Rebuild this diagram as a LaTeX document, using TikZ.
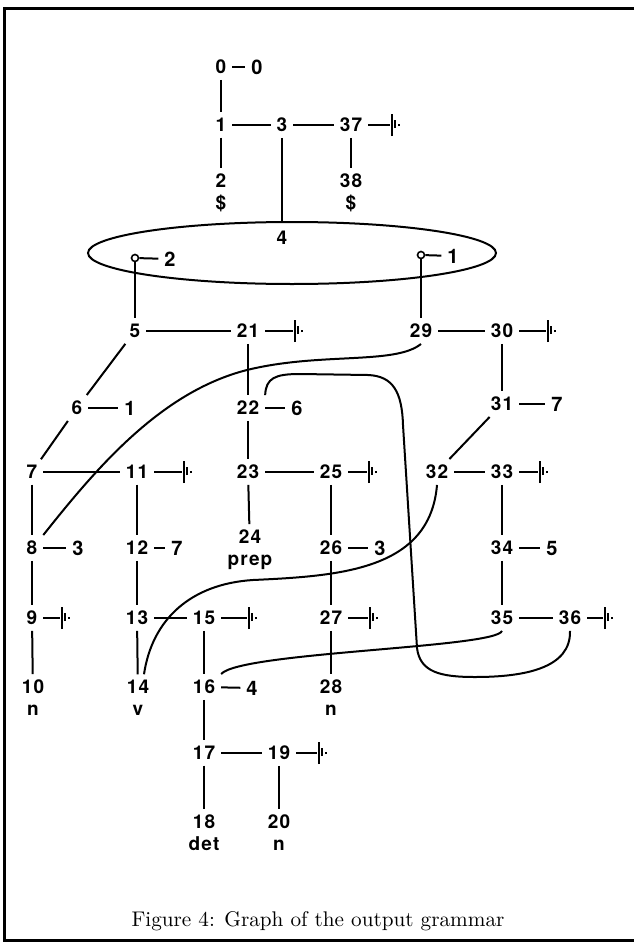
\documentclass[tikz,border=0pt]{standalone}
\usepackage{fontspec}
\setsansfont{TeX Gyre Heros}[LetterSpace=6]
\usetikzlibrary{shapes.geometric}

% end-of-rule mark: bar, stub and dot
\newcommand{\finsym}{\rule[-5.5pt]{1.1pt}{11pt}\kern0.5pt\rule[-1.5pt]{0.7pt}{4pt}\kern1.4pt\rule[-0.5pt]{1pt}{1pt}}

\begin{document}
\begin{tikzpicture}[x=0.5pt, y=-0.5pt, line width=1pt,
  num/.style={font=\sffamily\bfseries\fontsize{9.5}{11}\selectfont, align=center,
              inner sep=2.5pt},
  lab/.style={font=\sffamily\bfseries\fontsize{10}{11}\selectfont, inner sep=2.5pt},
  fin/.style={anchor=west, inner sep=0pt},
  hole/.style={draw, circle, inner sep=0pt, minimum size=3.5pt, line width=0.8pt},
  border/.style={line width=1.5pt}]

  \useasboundingbox (0,0) rectangle (634,942);
  \draw[border] (634,8) -- (4,8) -- (4,940) -- (634,940);

  % top rule
  \node[num] (n0)  at (221,67)  {0};
  \node[lab] (l0)  at (257,67)  {0};
  \node[num] (n1)  at (221,125) {1};
  \node[num] (n3)  at (282,125) {3};
  \node[num] (n37) at (351,125) {37};
  \node[fin] (t37) at (390,125) {\finsym};
  \node[num] (n2)  at (221,193) {2\\\$};
  \node[num] (n38) at (351,193) {38\\\$};

  % state 4
  \node[draw, ellipse, minimum width=204pt, minimum height=31pt, inner sep=0pt]
       (ell) at (292,253) {};
  \node[num]  (n4) at (282,238) {4};
  \node[hole] (c2) at (135,258) {};
  \node[lab]  (e2) at (170,259) {2};
  \node[hole] (c1) at (421,255) {};
  \node[lab]  (e1) at (453,256) {1};

  \node[num] (n5)  at (135,331) {5};
  \node[num] (n21) at (248,331) {21};
  \node[fin] (t21) at (293,331) {\finsym};
  \node[num] (n29) at (421,331) {29};
  \node[num] (n30) at (502,331) {30};
  \node[fin] (t30) at (546,331) {\finsym};
  \node[num] (n6)  at (77,408)  {6};
  \node[lab] (l6)  at (130,408) {1};
  \node[num] (n22) at (248,408) {22};
  \node[lab] (l22) at (297,408) {6};
  \node[num] (n31) at (502,404) {31};
  \node[lab] (l31) at (557,404) {7};

  \node[num] (n7)  at (32,472)  {7};
  \node[num] (n11) at (137,472) {11};
  \node[fin] (t11) at (182,472) {\finsym};
  \node[num] (n23) at (248,472) {23};
  \node[num] (n25) at (331,472) {25};
  \node[fin] (t25) at (367,472) {\finsym};
  \node[num] (n32) at (437,472) {32};
  \node[num] (n33) at (502,472) {33};
  \node[fin] (t33) at (538,472) {\finsym};

  \node[num] (n8)  at (32,548)  {8};
  \node[lab] (l8)  at (78,548)  {3};
  \node[num] (n12) at (137,548) {12};
  \node[lab] (l12) at (177,548) {7};
  \node[num] (n24) at (250,550) {24\\prep};
  \node[num] (n26) at (331,548) {26};
  \node[lab] (l26) at (380,548) {3};
  \node[num] (n34) at (502,548) {34};
  \node[lab] (l34) at (552,548) {5};

  \node[num] (n9)  at (32,618)  {9};
  \node[fin] (t9)  at (60,618)  {\finsym};
  \node[num] (n13) at (137,618) {13};
  \node[num] (n15) at (204,618) {15};
  \node[fin] (t15) at (247,618) {\finsym};
  \node[num] (n27) at (331,618) {27};
  \node[fin] (t27) at (368,618) {\finsym};
  \node[num] (n35) at (502,618) {35};
  \node[num] (n36) at (570,618) {36};
  \node[fin] (t36) at (603,618) {\finsym};

  \node[num] (n10) at (33,698)  {10\\n};
  \node[num] (n14) at (138,698) {14\\v};
  \node[num] (n16) at (204,687) {16};
  \node[lab] (l16) at (252,688) {4};
  \node[num] (n28) at (331,698) {28\\n};
  \node[num] (n17) at (204,753) {17};
  \node[num] (n19) at (279,753) {19};
  \node[fin] (t19) at (317,753) {\finsym};
  \node[num] (n18) at (204,833) {18\\det};
  \node[num] (n20) at (279,833) {20\\n};

  \node[font=\rmfamily\fontsize{10.6}{12}\selectfont\addfontfeatures{FakeBold=1}]
       (cap) at (318,921) {Figure 4: Graph of the output grammar};

  \draw (n0) -- (l0);
  \draw (n0) -- (n1);
  \draw (n1) -- (n2);
  \draw (n1) -- (n3);
  \draw (n3) -- (n37);
  \draw (n37) -- (t37);
  \draw (n37) -- (n38);
  \draw (n3) -- (n3 |- ell.north);

  \draw (c2) -- (e2);
  \draw (c1) -- (e1);
  \draw (c2) -- (n5);
  \draw (c1) -- (n29);
  \draw (n5) -- (n21);
  \draw (n21) -- (t21);
  \draw (n29) -- (n30);
  \draw (n30) -- (t30);
  \draw (n5) -- (n6);
  \draw (n6) -- (l6);
  \draw (n6) -- (n7);
  \draw (n21) -- (n22);
  \draw (n22) -- (l22);
  \draw (n22) -- (n23);
  \draw (n30) -- (n31);
  \draw (n31) -- (l31);
  \draw (n31) -- (n32);

  \draw (n7) -- (n11);
  \draw (n11) -- (t11);
  \draw (n23) -- (n25);
  \draw (n25) -- (t25);
  \draw (n32) -- (n33);
  \draw (n33) -- (t33);
  \draw (n7) -- (n8);
  \draw (n8) -- (l8);
  \draw (n8) -- (n9);
  \draw (n9) -- (t9);
  \draw (n9) -- (n10);
  \draw (n11) -- (n12);
  \draw (n12) -- (l12);
  \draw (n12) -- (n13);
  \draw (n13) -- (n14);
  \draw (n13) -- (n15);
  \draw (n15) -- (t15);
  \draw (n15) -- (n16);
  \draw (n16) -- (l16);
  \draw (n16) -- (n17);
  \draw (n17) -- (n18);
  \draw (n17) -- (n19);
  \draw (n19) -- (t19);
  \draw (n19) -- (n20);
  \draw (n23) -- (n24);
  \draw (n25) -- (n26);
  \draw (n26) -- (l26);
  \draw (n26) -- (n27);
  \draw (n27) -- (t27);
  \draw (n27) -- (n28);
  \draw (n33) -- (n34);
  \draw (n34) -- (l34);
  \draw (n34) -- (n35);
  \draw (n35) -- (n36);
  \draw (n36) -- (t36);

  % long links
  \draw (n8.north east) .. controls (95,470) and (160,392) .. (247,370)
        .. controls (320,352) and (395,365) .. (n29.south);
  \draw ([xshift=3pt]n14.north) .. controls (152,620) and (190,584) .. (253,580)
        .. controls (340,576) and (430,570) .. (n32.south);
  \draw (n16.north east) .. controls (240,652) and (495,648) .. (n35.south);
  \draw (n22.north east) .. controls (266,378) and (275,374) .. (300,374) -- (368,375)
        .. controls (393,376) and (402,392) .. (403,425) -- (417,648)
        .. controls (420,672) and (440,677) .. (475,677)
        .. controls (525,677) and (571,668) .. (n36.south);

\end{tikzpicture}
\end{document}
